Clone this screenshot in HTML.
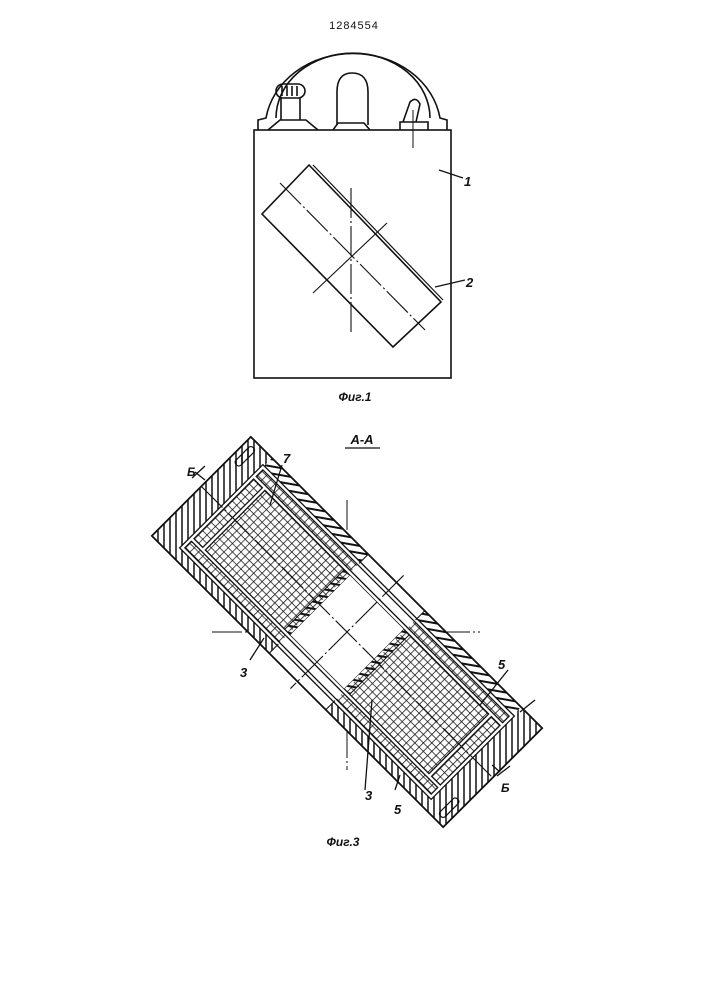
<!DOCTYPE html>
<html><head><meta charset="utf-8"><style>
html,body{margin:0;padding:0;background:#fff;}
svg{display:block}
text{font-family:"Liberation Sans",sans-serif;fill:#111;}
</style></head><body>
<svg width="707" height="1000" viewBox="0 0 707 1000" xmlns="http://www.w3.org/2000/svg">
<defs>
<pattern id="vh" width="6" height="6" patternUnits="userSpaceOnUse" patternTransform="rotate(-45)">
<line x1="3" y1="0" x2="3" y2="6" stroke="#111" stroke-width="1.5"/></pattern>
<pattern id="dh" width="7" height="7" patternUnits="userSpaceOnUse" patternTransform="rotate(-125)">
<line x1="3" y1="0" x2="3" y2="7" stroke="#111" stroke-width="2"/></pattern>
<pattern id="xh" width="6" height="6" patternUnits="userSpaceOnUse">
<path d="M0 0H6M0 0V6" stroke="#111" stroke-width="1.5"/></pattern>
</defs>
<text x="354" y="29" font-size="11" text-anchor="middle" letter-spacing="1">1284554</text>

<!-- Fig 1 -->
<g fill="none" stroke="#111" stroke-width="1.6">
<rect x="254" y="130" width="197" height="248"/>
<path d="M258 130 V120 L266 118 A 88 76 0 0 1 440 118 L447 120 V130"/>
<path d="M276 118 A 76 64 0 0 1 430 118"/>
<path d="M268 130 L280 120 H306 L318 130"/>
<rect x="276" y="84" width="29" height="14" rx="7"/>
<path d="M282 86v10M287 86v10M292 86v10M297 86v10"/>
<path d="M281 98 V120 M300 98 V120"/>
<path d="M337 125 V92 Q337 73 352 73 Q368 73 368 92 V125"/>
<path d="M333 130 L338 123 H364 L370 130"/>
<path d="M400 130 V122 H428 V130 M403 122 L410 102 Q416 96 420 104 L416 122"/>
<path d="M413 110 V148" stroke-width="1"/>
<path d="M309 165 L262 214 L393 347 L441 302 Z"/>
<path d="M313 165 L443 300" stroke-width="1.2"/>
<path d="M351 188 V335" stroke-width="1.1" stroke-dasharray="30 3 2 3"/>
<path d="M280 183 L425 330" stroke-width="1.1" stroke-dasharray="30 3 2 3"/>
<path d="M313 293 L387 223" stroke-width="1.1"/>
<path d="M439 170 L463 178 M435 287 L465 280" stroke-width="1.2"/>
</g>
<text x="464" y="186" font-size="13" font-style="italic" font-weight="bold">1</text>
<text x="466" y="287" font-size="13" font-style="italic" font-weight="bold">2</text>
<text x="355" y="401" font-size="12" font-style="italic" font-weight="bold" text-anchor="middle">Фиг.1</text>

<!-- Fig 3 -->
<text x="362" y="444" font-size="13" font-style="italic" font-weight="bold" text-anchor="middle">А-А</text>
<line x1="345" y1="448" x2="380" y2="448" stroke="#111" stroke-width="1.3"/>
<g stroke="#111" stroke-width="1" fill="none">
<line x1="212" y1="632" x2="480" y2="632" stroke-dasharray="30 3 2 3"/>
<line x1="347" y1="500" x2="347" y2="770" stroke-dasharray="30 3 2 3"/>
</g>
<g transform="translate(347,632) rotate(45)">
<rect x="-206" y="-70" width="412" height="140" fill="#fff"/>
<rect x="-206" y="-70" width="30" height="140" fill="url(#vh)"/>
<rect x="176" y="-70" width="30" height="140" fill="url(#vh)"/>
<rect x="-176" y="57" width="136" height="13" fill="url(#vh)"/>
<rect x="40" y="57" width="136" height="13" fill="url(#vh)"/>
<rect x="-176" y="-70" width="136" height="13" fill="url(#dh)"/>
<rect x="40" y="-70" width="136" height="13" fill="url(#dh)"/>
<rect x="-176" y="-57" width="136" height="114" fill="url(#xh)"/>
<rect x="40" y="-57" width="136" height="114" fill="url(#xh)"/>
<rect x="-46" y="-44" width="8" height="88" fill="url(#dh)" stroke="#111" stroke-width="1"/>
<rect x="38" y="-44" width="8" height="88" fill="url(#dh)" stroke="#111" stroke-width="1"/>
<g fill="none" stroke="#111" stroke-width="5">
<rect x="-176" y="-57" width="352" height="114"/>
<path d="M-176 -44 H176 M-176 44 H176 M-160 -44 V44 M160 -44 V44"/>
</g>
<g fill="none" stroke="#fff" stroke-width="2.4">
<rect x="-176" y="-57" width="352" height="114"/>
<path d="M-176 -44 H176 M-176 44 H176 M-160 -44 V44 M160 -44 V44"/>
</g>
<rect x="-38" y="-42" width="76" height="84" fill="#fff"/>
<g fill="none" stroke="#111" stroke-width="1.1">
<path d="M-40 -70 V-57 M40 -70 V-57 M-40 57 V70 M40 57 V70"/>
<line x1="-206" y1="0" x2="206" y2="0" stroke-dasharray="30 3 2 3"/>
<line x1="0" y1="-80" x2="0" y2="80" stroke-dasharray="30 3 2 3"/>
</g>
<rect x="-206" y="-70" width="412" height="140" fill="none" stroke="#111" stroke-width="1.8"/>
<g stroke="#111" stroke-width="1.2">
<rect x="-200" y="-64" width="7" height="24" rx="3" fill="url(#vh)"/>
<rect x="193" y="40" width="7" height="24" rx="3" fill="url(#vh)"/>
</g>
</g>
<g stroke="#111" stroke-width="1.3" fill="none">
<path d="M192 478 L205 466 M195 472 L205 480"/>
<path d="M497 776 L510 766 M500 772 L492 765"/>
<path d="M520 712 L535 700"/>
<path d="M282 465 L270 505 M264 638 L250 660 M372 700 L365 790 M400 775 L395 790 M508 670 L480 705"/>
</g>
<text x="187" y="476" font-size="12" font-style="italic" font-weight="bold">Б</text>
<text x="501" y="792" font-size="12" font-style="italic" font-weight="bold">Б</text>
<text x="283" y="463" font-size="13" font-style="italic" font-weight="bold">7</text>
<text x="240" y="677" font-size="13" font-style="italic" font-weight="bold">3</text>
<text x="365" y="800" font-size="13" font-style="italic" font-weight="bold">3</text>
<text x="394" y="814" font-size="13" font-style="italic" font-weight="bold">5</text>
<text x="498" y="669" font-size="13" font-style="italic" font-weight="bold">5</text>
<text x="343" y="846" font-size="12" font-style="italic" font-weight="bold" text-anchor="middle">Фиг.3</text>
</svg>
</body></html>
